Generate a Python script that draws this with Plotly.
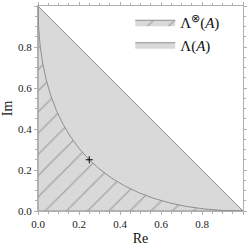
import plotly.graph_objects as go

# Boundary of the hatched region
curve_re = [0.0, 0.0025, 0.01, 0.0225, 0.04, 0.0625, 0.09, 0.1225, 0.16, 0.2025, 0.25,
            0.3025, 0.36, 0.4225, 0.49, 0.5625, 0.64, 0.7225, 0.81, 0.9025, 1.0]
curve_im = [1.0, 0.9025, 0.81, 0.7225, 0.64, 0.5625, 0.49, 0.4225, 0.36, 0.3025, 0.25,
            0.2025, 0.16, 0.1225, 0.09, 0.0625, 0.04, 0.0225, 0.01, 0.0025, 0.0]
# Triangle region
tri_re = [0.0, 1.0, 0.0, 0.0]
tri_im = [1.0, 0.0, 0.0, 1.0]
# Marked point
pt_re = [0.25]
pt_im = [0.25]

serif = "Liberation Serif"
fill_col = "#d9d9d9"
edge_col = "#8f8f8f"

fig = go.Figure()
fig.add_trace(go.Scatter(
    x=tri_re, y=tri_im, mode="lines", fill="toself", fillcolor=fill_col,
    line=dict(color=edge_col, width=1), name="Λ(<i>A</i>)", legendrank=2))
fig.add_trace(go.Scatter(
    x=curve_re + [0.0, 0.0], y=curve_im + [0.0, 1.0], mode="lines", fill="toself",
    fillcolor=fill_col,
    fillpattern=dict(shape="/", fgcolor="#7a7a7a", bgcolor=fill_col, size=15, solidity=0.1),
    line=dict(color=edge_col, width=1), name="Λ<sup>⊗</sup>(<i>A</i>)", legendrank=1))
fig.add_trace(go.Scatter(
    x=pt_re, y=pt_im, mode="markers",
    marker=dict(symbol="cross-thin", size=5, line=dict(color="black", width=1)),
    showlegend=False))

axis_common = dict(
    range=[0, 1], dtick=0.2, tickformat=".1f", showgrid=False, zeroline=False,
    showline=True, linecolor="#b0b0b0", linewidth=1, mirror="allticks",
    ticks="outside", ticklen=3, tickcolor="#b0b0b0", tickwidth=1,
    tickfont=dict(family=serif, size=11, color="#222"), automargin=False,
    minor=dict(dtick=0.05, ticks="outside", ticklen=2, tickcolor="#b0b0b0", tickwidth=1),
)
fig.update_layout(
    width=250, height=246,
    margin=dict(l=38, r=7, t=6, b=35),
    paper_bgcolor="white", plot_bgcolor="white",
    showlegend=True,
    legend=dict(x=0.45, y=1.0, xanchor="left", yanchor="top",
                bgcolor="rgba(0,0,0,0)", font=dict(family=serif, size=15, color="#111"),
                tracegroupgap=2, itemwidth=40),
    xaxis=dict(**axis_common, title=dict(text="Re", font=dict(family=serif, size=14, color="#111"), standoff=7)),
    yaxis=dict(**axis_common, title=dict(text="Im", font=dict(family=serif, size=14, color="#111"), standoff=12)),
)
fig.write_html("out.html", config={"displayModeBar": False},
               post_script="document.body.style.margin='0';document.body.style.overflow='hidden';")
